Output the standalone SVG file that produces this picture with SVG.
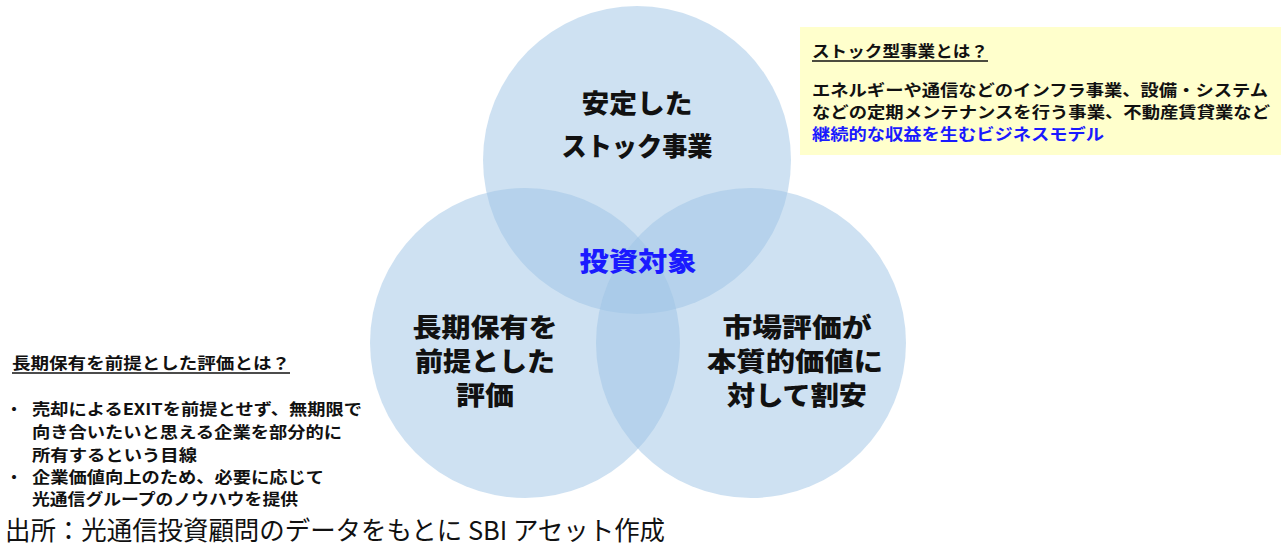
<svg xmlns="http://www.w3.org/2000/svg" width="1281" height="545" viewBox="0 0 1281 545">
<style>
text{font-family:"Noto Sans CJK JP","Noto Sans",sans-serif;}
.c{fill:#9dc3e6;fill-opacity:0.5;}
.lbl{font-size:26px;font-weight:900;fill:#111;text-anchor:middle;}
.note{font-size:16px;font-weight:bold;fill:#111;}
.blue{fill:#1a1aff;}
</style>
<rect width="1281" height="545" fill="#ffffff"/>
<g id="note-stock">
<rect x="800" y="27" width="481" height="128" fill="#ffffcc"/>
<text class="note" x="812" y="57" textLength="176" lengthAdjust="spacingAndGlyphs">ストック型事業とは？</text>
<line x1="812" y1="61" x2="988" y2="61" stroke="#111" stroke-width="1.3"/>
<text class="note" x="812" y="96" textLength="456" lengthAdjust="spacingAndGlyphs">エネルギーや通信などのインフラ事業、設備・システム</text>
<text class="note" x="812" y="118" textLength="458" lengthAdjust="spacingAndGlyphs">などの定期メンテナンスを行う事業、不動産賃貸業など</text>
<text class="note blue" x="812" y="140" textLength="292" lengthAdjust="spacingAndGlyphs">継続的な収益を生むビジネスモデル</text>
</g>
<g id="circle-top">
<circle class="c" cx="637" cy="160" r="154"/>
<text class="lbl" x="637" y="113" textLength="111" lengthAdjust="spacingAndGlyphs">安定した</text>
<text class="lbl" x="637" y="156" textLength="151" lengthAdjust="spacingAndGlyphs">ストック事業</text>
</g>
<g id="circle-left">
<circle class="c" cx="525" cy="343" r="155"/>
<text class="lbl" x="485" y="337" textLength="145" lengthAdjust="spacingAndGlyphs">長期保有を</text>
<text class="lbl" x="485" y="371" textLength="140" lengthAdjust="spacingAndGlyphs">前提とした</text>
<text class="lbl" x="485" y="405" textLength="58" lengthAdjust="spacingAndGlyphs">評価</text>
</g>
<g id="circle-right">
<circle class="c" cx="751" cy="343" r="155"/>
<text class="lbl" x="797" y="337" textLength="149" lengthAdjust="spacingAndGlyphs">市場評価が</text>
<text class="lbl" x="795" y="371" textLength="176" lengthAdjust="spacingAndGlyphs">本質的価値に</text>
<text class="lbl" x="797" y="405" textLength="140" lengthAdjust="spacingAndGlyphs">対して割安</text>
</g>
<g id="center">
<text class="lbl blue" x="638" y="271" textLength="117" lengthAdjust="spacingAndGlyphs">投資対象</text>
</g>
<g id="note-long">
<text class="note" x="12" y="369" textLength="278" lengthAdjust="spacingAndGlyphs">長期保有を前提とした評価とは？</text>
<line x1="12" y1="373" x2="290" y2="373" stroke="#111" stroke-width="1.3"/>
<text class="note" x="6" y="415">・</text>
<text class="note" x="32" y="415" textLength="330" lengthAdjust="spacingAndGlyphs">売却によるEXITを前提とせず、無期限で</text>
<text class="note" x="32" y="438" textLength="310" lengthAdjust="spacingAndGlyphs">向き合いたいと思える企業を部分的に</text>
<text class="note" x="32" y="461" textLength="165" lengthAdjust="spacingAndGlyphs">所有するという目線</text>
<text class="note" x="6" y="483">・</text>
<text class="note" x="32" y="483" textLength="292" lengthAdjust="spacingAndGlyphs">企業価値向上のため、必要に応じて</text>
<text class="note" x="32" y="505" textLength="266" lengthAdjust="spacingAndGlyphs">光通信グループのノウハウを提供</text>
</g>
<g id="caption">
<text x="5" y="540" font-size="26" fill="#111" textLength="660" lengthAdjust="spacingAndGlyphs">出所：光通信投資顧問のデータをもとに SBI アセット作成</text>
</g>
</svg>
